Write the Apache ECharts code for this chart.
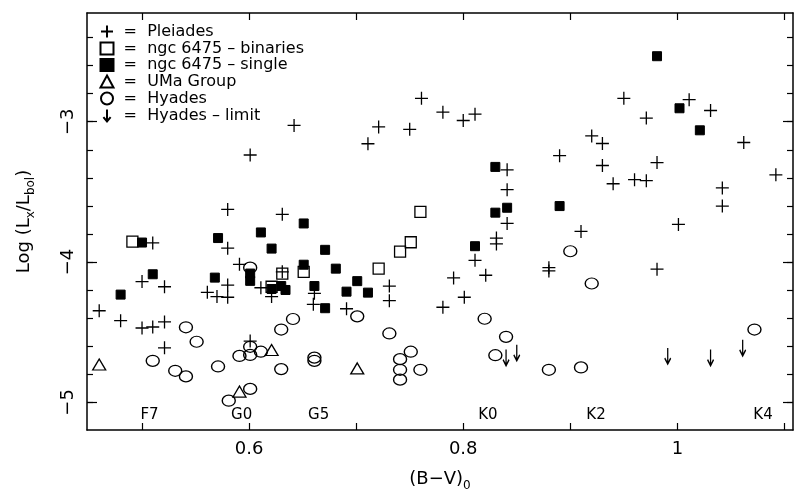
<!DOCTYPE html>
<html>
<head>
<meta charset="utf-8">
<title>Log(Lx/Lbol) vs (B-V)0</title>
<script src="https://cdn.jsdelivr.net/npm/echarts@6/dist/echarts.min.js"></script>
<style>html,body{margin:0;background:#fff}#chart{width:801px;height:497px}</style>
</head>
<body>
<div id="chart"></div>
<script>
// values: [B-V, log(Lx/Lbol)]
var pleiades = [
  [0.460,-4.347],[0.480,-4.418],[0.500,-4.139],[0.510,-3.864],[0.521,-4.176],[0.500,-4.470],
  [0.510,-4.463],[0.521,-4.427],[0.521,-4.611],[0.580,-3.625],[0.580,-3.901],[0.591,-4.016],
  [0.580,-4.164],[0.561,-4.216],[0.570,-4.246],[0.580,-4.251],[0.611,-4.183],[0.621,-4.246],
  [0.601,-4.563],[0.601,-3.237],[0.642,-3.026],[0.631,-3.660],[0.631,-4.070],[0.661,-4.223],
  [0.660,-4.301],[0.691,-4.333],[0.731,-4.171],[0.731,-4.275],[0.711,-3.157],[0.721,-3.037],
  [0.750,-3.054],[0.761,-2.833],[0.781,-2.932],[0.800,-2.991],[0.811,-2.946],[0.841,-3.343],
  [0.841,-3.484],[0.841,-3.725],[0.831,-3.829],[0.831,-3.871],[0.811,-3.988],[0.791,-4.113],
  [0.821,-4.094],[0.801,-4.251],[0.781,-4.322],[0.890,-3.242],[0.920,-3.101],[0.930,-3.155],
  [0.930,-3.312],[0.940,-3.442],[0.910,-3.782],[0.880,-4.040],[0.880,-4.063],[0.950,-2.833],
  [0.971,-2.974],[1.011,-2.843],[1.031,-2.920],[1.062,-3.148],[0.981,-3.291],[0.960,-3.413],
  [0.971,-3.420],[1.092,-3.378],[1.042,-3.472],[1.042,-3.601],[1.001,-3.732],[0.981,-4.051]
];
var ngcBinaries = [
  [0.491,-3.854],[0.621,-4.176],[0.631,-4.082],[0.651,-4.070],[0.721,-4.047],[0.741,-3.925],
  [0.751,-3.859],[0.760,-3.643]
];
var ngcSingle = [
  [0.500,-3.861],[0.510,-4.087],[0.480,-4.232],[0.571,-3.829],[0.611,-3.789],[0.621,-3.904],
  [0.601,-4.082],[0.601,-4.134],[0.568,-4.111],[0.630,-4.171],[0.634,-4.199],[0.621,-4.192],
  [0.651,-3.725],[0.671,-3.913],[0.651,-4.019],[0.681,-4.047],[0.661,-4.171],[0.671,-4.329],
  [0.691,-4.211],[0.701,-4.136],[0.711,-4.218],[0.830,-3.322],[0.841,-3.613],[0.830,-3.648],
  [0.811,-3.887],[0.890,-3.601],[0.981,-2.533],[1.002,-2.904],[1.021,-3.061]
];
var umaGroup = [[0.460,-4.730],[0.621,-4.627],[0.591,-4.923],[0.701,-4.758]];
var hyades = [
  [0.510,-4.704],[0.531,-4.775],[0.541,-4.815],[0.541,-4.465],[0.551,-4.568],[0.571,-4.744],
  [0.601,-4.040],[0.601,-4.604],[0.591,-4.669],[0.601,-4.662],[0.611,-4.639],[0.630,-4.481],
  [0.630,-4.763],[0.601,-4.904],[0.581,-4.988],[0.641,-4.406],[0.661,-4.681],[0.661,-4.704],
  [0.701,-4.387],[0.731,-4.509],[0.751,-4.639],[0.741,-4.692],[0.741,-4.768],[0.741,-4.838],
  [0.760,-4.768],[0.820,-4.404],[0.840,-4.533],[0.830,-4.664],[0.880,-4.768],[0.900,-3.923],
  [0.920,-4.153],[0.910,-4.751],[1.072,-4.481]
];
var hyadesLimit = [[0.840,-4.681],[0.850,-4.646],[0.991,-4.669],[1.031,-4.681],[1.061,-4.611]];

var xTicks = [0.5,0.6,0.7,0.8,0.9,1.0,1.1];
var xLabels = [0.6,0.8,1.0];
var yTicks = [-5,-4.8,-4.6,-4.4,-4.2,-4,-3.8,-3.6,-3.4,-3.2,-3,-2.8,-2.6,-2.4];
var yLabels = [-5,-4,-3];
var specTypes = ['F7','G0','G5','K0','K2','K4'];
var specX = [0.507,0.593,0.665,0.823,0.924,1.080];

var FONT = 'DejaVu Sans';
var X_MIN = 0.4486, X_MAX = 1.108, Y_MIN = -5.197, Y_MAX = -2.225;
var SPEC_Y = -5.09;

var PLUS = 'path://M0,6L12,6M6,0L6,12';
var ARROW = 'path://M5,0L5,15M0.5,9.5L5,15L9.5,9.5';

function pts(name, data, symbol, size, fill, bw) {
  return {
    name: name, type: 'scatter', data: data,
    symbol: symbol, symbolSize: size, symbolKeepAspect: true,
    itemStyle: { color: fill, borderColor: '#000', borderWidth: bw || 1.2, opacity: 1 },
    emphasis: { disabled: true }, silent: true
  };
}

function xAx(pos, labels) {
  return {
    type: 'value', position: pos, min: X_MIN, max: X_MAX,
    axisLine: { show: true, onZero: false, lineStyle: { color: '#000', width: 1.5 } },
    axisTick: { show: true, inside: true, length: 7, customValues: xTicks, lineStyle: { color: '#000', width: 1.2 } },
    axisLabel: labels ? {
      show: true, customValues: xLabels, margin: 10, color: '#000', fontSize: 18, fontFamily: FONT,
      formatter: function (v) { return String(+v.toFixed(1)); }
    } : { show: false },
    splitLine: { show: false }
  };
}

function yAx(pos, ticks, len, labels, line) {
  return {
    type: 'value', position: pos, min: Y_MIN, max: Y_MAX,
    axisLine: { show: line, onZero: false, lineStyle: { color: '#000', width: 1.5 } },
    axisTick: { show: true, inside: true, length: len, customValues: ticks, lineStyle: { color: '#000', width: 1.2 } },
    axisLabel: labels ? {
      show: true, customValues: yLabels, rotate: 90, margin: 10, color: '#000', fontSize: 18, fontFamily: FONT,
      formatter: function (v) { return '\u2212' + Math.abs(Math.round(v)); }
    } : { show: false },
    splitLine: { show: false }
  };
}

var names = ['Pleiades', 'ngc 6475 \u2013 binaries', 'ngc 6475 \u2013 single', 'UMa Group', 'Hyades', 'Hyades \u2013 limit'];

var chart = echarts.init(document.getElementById('chart'));
var xBottom = xAx('bottom', true);
xBottom.name = '{t|(B\u2212V)}{s|0}';
xBottom.nameLocation = 'middle';
xBottom.nameGap = 38;
xBottom.nameTextStyle = {
  color: '#000', fontFamily: FONT,
  rich: {
    t: { fontSize: 18, lineHeight: 22, fontFamily: FONT, color: '#000' },
    s: { fontSize: 12, lineHeight: 12, padding: [12, 0, 0, 0], verticalAlign: 'top', fontFamily: FONT, color: '#000' }
  }
};
var yLeft = yAx('left', yTicks, 6, true, true);
yLeft.name = '{t|Log (L}{s|x}{t|/L}{s|bol}{t|)}';
yLeft.nameLocation = 'middle';
yLeft.nameRotate = 90;
yLeft.nameGap = 52;
yLeft.nameTextStyle = {
  color: '#000', fontFamily: FONT,
  rich: {
    t: { fontSize: 18, lineHeight: 22, fontFamily: FONT, color: '#000' },
    s: { fontSize: 12, lineHeight: 12, padding: [12, 0, 0, 0], verticalAlign: 'top', fontFamily: FONT, color: '#000' }
  }
};

var option = {
  backgroundColor: '#fff',
  animation: false,
  textStyle: { fontFamily: FONT },
  grid: { left: 87, right: 8, top: 13, bottom: 62, containLabel: false },
  legend: {
    orient: 'vertical', left: 98, top: 23, padding: 0, itemWidth: 13, itemHeight: 12, itemGap: 0,
    selectedMode: false, data: names,
    formatter: function (n) { return ' =  ' + n; },
    textStyle: { color: '#000', fontSize: 16, lineHeight: 16, fontFamily: FONT }
  },
  xAxis: [xBottom, xAx('top', false)],
  yAxis: [
    yLeft,
    yAx('left', yLabels, 10, false, false),
    yAx('right', yTicks, 6, false, true),
    yAx('right', yLabels, 10, false, false)
  ],
  series: [
    pts(names[0], pleiades, PLUS, 13, 'none', 1.3),
    pts(names[1], ngcBinaries, 'rect', 11, 'none', 1.3),
    pts(names[2], ngcSingle, 'rect', 9, '#000', 1),
    pts(names[3], umaGroup, 'triangle', [13, 11], 'none', 1.3),
    pts(names[4], hyades, 'circle', [13, 11], 'none', 1.3),
    pts(names[5], hyadesLimit, ARROW, [10, 16], 'none', 1.6),
    {
      name: 'spectral', type: 'scatter', silent: true, symbolSize: 1,
      itemStyle: { color: 'rgba(0,0,0,0)', opacity: 1 },
      data: specX.map(function (x, i) { return { name: specTypes[i], value: [x, SPEC_Y] }; }),
      label: {
        show: true, position: 'inside', formatter: '{b}', color: '#000', opacity: 1,
        textBorderWidth: 0, fontSize: 15, fontFamily: FONT
      }
    }
  ]
};
chart.setOption(option);
</script>
</body>
</html>
